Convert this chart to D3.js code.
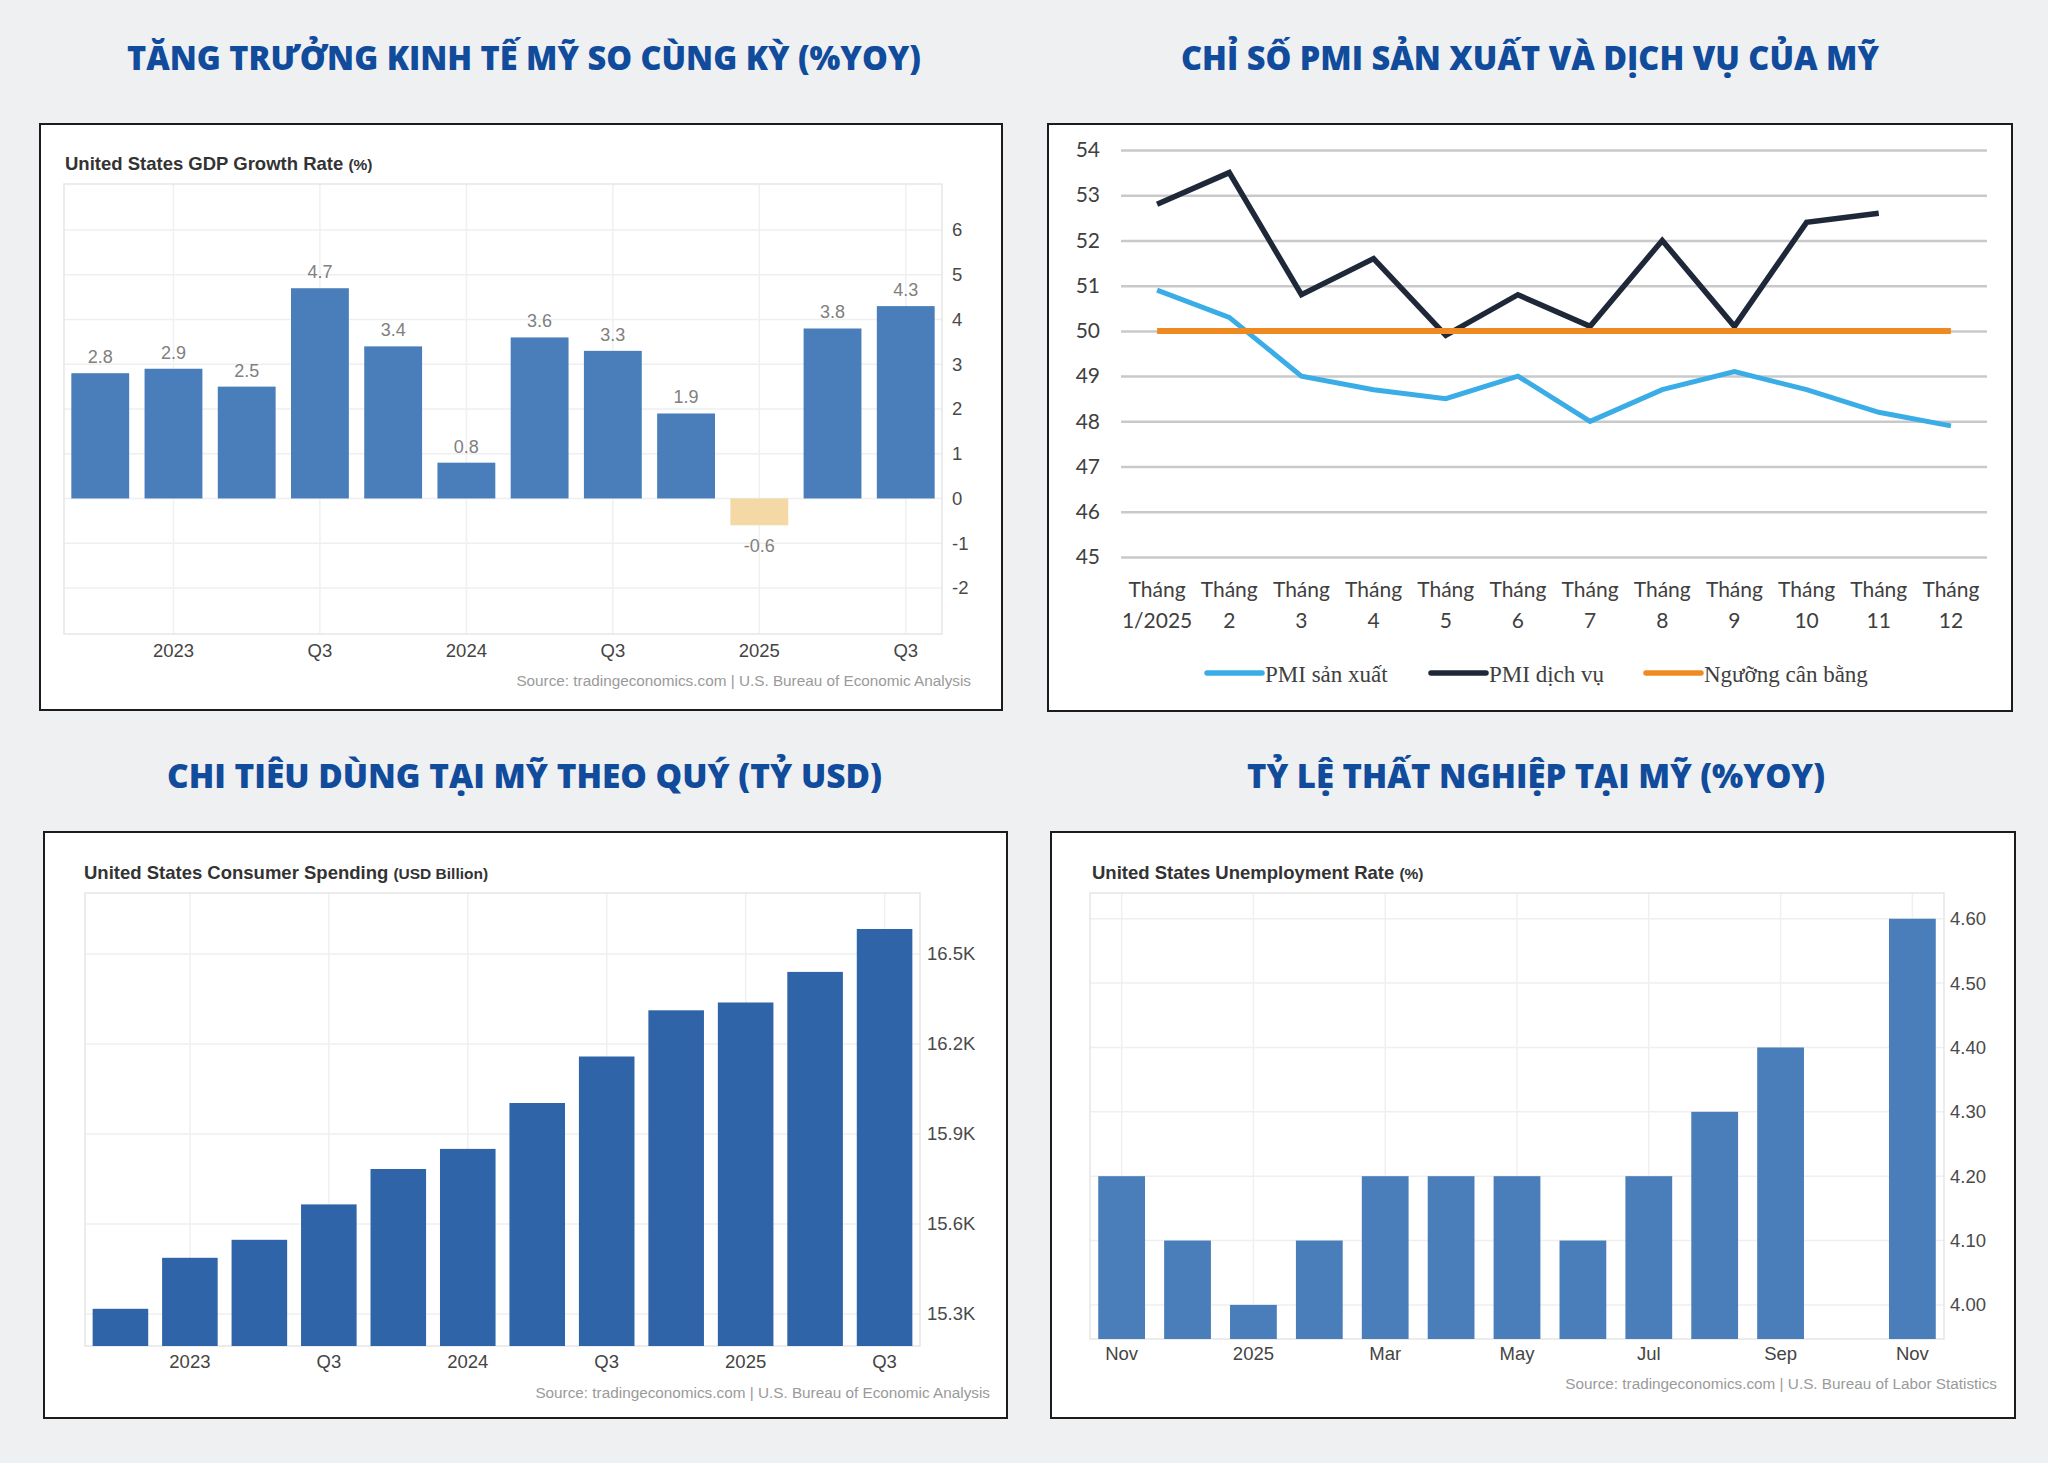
<!DOCTYPE html>
<html>
<head>
<meta charset="utf-8">
<script src="https://cdn.jsdelivr.net/npm/d3@7"></script>
<style>
  body { margin: 0; background: #eff0f2; }
  svg { display: block; }
</style>
</head>
<body>
<script>
const WIDTH = 2048;
const HEIGHT = 1463;

// --- Tăng trưởng GDP (%YoY) ---
const gdpQuarters = ["Q4 2022", "Q1 2023", "Q2 2023", "Q3 2023", "Q4 2023", "Q1 2024",
  "Q2 2024", "Q3 2024", "Q4 2024", "Q1 2025", "Q2 2025", "Q3 2025"];
const gdpValues = [2.8, 2.9, 2.5, 4.7, 3.4, 0.8, 3.6, 3.3, 1.9, -0.6, 3.8, 4.3];
const gdpTickLabels = ["", "2023", "", "Q3", "", "2024", "", "Q3", "", "2025", "", "Q3"];
const gdpYTicks = [-2, -1, 0, 1, 2, 3, 4, 5, 6];

// --- PMI sản xuất và dịch vụ ---
const pmiMonths = [["Tháng", "1/2025"], ["Tháng", "2"], ["Tháng", "3"], ["Tháng", "4"],
  ["Tháng", "5"], ["Tháng", "6"], ["Tháng", "7"], ["Tháng", "8"], ["Tháng", "9"],
  ["Tháng", "10"], ["Tháng", "11"], ["Tháng", "12"]];
const pmiManufacturing = [50.9, 50.3, 49.0, 48.7, 48.5, 49.0, 48.0, 48.7, 49.1, 48.7, 48.2, 47.9];
const pmiServices = [52.8, 53.5, 50.8, 51.6, 49.9, 50.8, 50.1, 52.0, 50.1, 52.4, 52.6, null];
const pmiThreshold = [50, 50, 50, 50, 50, 50, 50, 50, 50, 50, 50, 50];
const pmiYTicks = [45, 46, 47, 48, 49, 50, 51, 52, 53, 54];
const pmiLegend = ["PMI sản xuất", "PMI dịch vụ", "Ngưỡng cân bằng"];

// --- Chi tiêu dùng (tỷ USD) ---
const spendQuarters = gdpQuarters;
const spendValues = [15317, 15487, 15547, 15665, 15783, 15850, 16003, 16158, 16312, 16338, 16440, 16583];
const spendTickLabels = ["", "2023", "", "Q3", "", "2024", "", "Q3", "", "2025", "", "Q3"];
const spendYTicks = [15300, 15600, 15900, 16200, 16500];

// --- Tỷ lệ thất nghiệp (%) ---
const unempMonths = ["Nov 2024", "Dec 2024", "Jan 2025", "Feb 2025", "Mar 2025", "Apr 2025",
  "May 2025", "Jun 2025", "Jul 2025", "Aug 2025", "Sep 2025", "Oct 2025", "Nov 2025"];
const unempValues = [4.2, 4.1, 4.0, 4.1, 4.2, 4.2, 4.2, 4.1, 4.2, 4.3, 4.4, null, 4.6];
const unempTickLabels = ["Nov", "", "2025", "", "Mar", "", "May", "", "Jul", "", "Sep", "", "Nov"];
const unempYTicks = [4.0, 4.1, 4.2, 4.3, 4.4, 4.5, 4.6];

const svg = d3.select("body").append("svg")
  .attr("width", WIDTH)
  .attr("height", HEIGHT);

svg.append("rect").attr("width", WIDTH).attr("height", HEIGHT).attr("fill", "#eff0f2");

// Tiêu đề lớn (chữ đậm, hẹp)
const titles = [
  { text: "TĂNG TRƯỞNG KINH TẾ MỸ SO CÙNG KỲ (%YOY)", x: 127, y: 70, w: 794 },
  { text: "CHỈ SỐ PMI SẢN XUẤT VÀ DỊCH VỤ CỦA MỸ", x: 1181, y: 70, w: 698 },
  { text: "CHI TIÊU DÙNG TẠI MỸ THEO QUÝ (TỶ USD)", x: 167, y: 788, w: 715 },
  { text: "TỶ LỆ THẤT NGHIỆP TẠI MỸ (%YOY)", x: 1247, y: 788, w: 578 }
];
svg.selectAll("text.title")
  .data(titles)
  .join("text")
  .attr("class", "title")
  .attr("x", d => d.x)
  .attr("y", d => d.y)
  .attr("textLength", d => d.w)
  .attr("lengthAdjust", "spacingAndGlyphs")
  .attr("font-family", "'Open Sans', 'Noto Sans', sans-serif")
  .attr("font-weight", 800)
  .attr("font-size", 34)
  .attr("fill", "#104b9c")
  .text(d => d.text);

// Khung trắng của 4 biểu đồ
const panels = [
  { x: 40, y: 124, w: 962, h: 586 },
  { x: 1048, y: 124, w: 964, h: 587 },
  { x: 44, y: 832, w: 963, h: 586 },
  { x: 1051, y: 832, w: 964, h: 586 }
];
svg.selectAll("rect.panel")
  .data(panels)
  .join("rect")
  .attr("class", "panel")
  .attr("x", d => d.x)
  .attr("y", d => d.y)
  .attr("width", d => d.w)
  .attr("height", d => d.h)
  .attr("fill", "#fff")
  .attr("stroke", "#1c1c1c")
  .attr("stroke-width", 2);

const TE_FONT = "'Liberation Sans', Arial, sans-serif";

// Biểu đồ cột kiểu tradingeconomics
function teChart(c) {
  const g = svg.append("g");
  const x = d3.scaleBand().domain(c.categories).range([c.left, c.right])
    .paddingInner(c.padIn).paddingOuter(c.padOut);
  const y = d3.scaleLinear().domain(c.domain).range([c.bottom, c.top]);

  // lưới ngang
  g.selectAll("line.hgrid")
    .data(c.yTicks)
    .join("line")
    .attr("x1", c.left).attr("x2", c.right)
    .attr("y1", d => y(d)).attr("y2", d => y(d))
    .attr("stroke", "#efefef").attr("stroke-width", 1.5);

  // lưới dọc tại các nhãn
  const labeled = c.categories.filter((d, i) => c.tickLabels[i] !== "");
  g.selectAll("line.vgrid")
    .data(labeled)
    .join("line")
    .attr("x1", d => x(d) + x.bandwidth() / 2).attr("x2", d => x(d) + x.bandwidth() / 2)
    .attr("y1", c.top).attr("y2", c.bottom)
    .attr("stroke", "#f0f0f0").attr("stroke-width", 1.5);

  // khung vùng vẽ
  g.append("rect")
    .attr("x", c.left).attr("y", c.top)
    .attr("width", c.right - c.left).attr("height", c.bottom - c.top)
    .attr("fill", "none").attr("stroke", "#e6e6e6").attr("stroke-width", 1.5);

  const base = c.baseline !== undefined ? c.baseline : c.domain[0];
  const rows = c.categories.map((k, i) => ({ k, v: c.values[i] })).filter(d => d.v !== null);

  g.selectAll("rect.bar")
    .data(rows)
    .join("rect")
    .attr("x", d => x(d.k))
    .attr("width", x.bandwidth())
    .attr("y", d => Math.min(y(d.v), y(base)))
    .attr("height", d => Math.abs(y(d.v) - y(base)))
    .attr("fill", d => d.v < 0 ? c.negColor : c.color);

  if (c.showValues) {
    g.selectAll("text.val")
      .data(rows)
      .join("text")
      .attr("x", d => x(d.k) + x.bandwidth() / 2)
      .attr("y", d => d.v < 0 ? y(d.v) + 27 : y(d.v) - 10)
      .attr("text-anchor", "middle")
      .attr("font-family", TE_FONT)
      .attr("font-size", 18)
      .attr("fill", "#808080")
      .text(d => d.v.toFixed(1));
  }

  // trục y bên phải
  const yAxis = g.append("g")
    .attr("transform", `translate(${c.right},0)`)
    .call(d3.axisRight(y).tickValues(c.yTicks).tickSize(0).tickPadding(c.yPad).tickFormat(c.yFormat));
  yAxis.select(".domain").remove();
  yAxis.selectAll("text")
    .attr("font-family", TE_FONT)
    .attr("font-size", 18.5)
    .attr("fill", "#4a4a4a");

  // trục x
  const xAxis = g.append("g")
    .attr("transform", `translate(0,${c.bottom})`)
    .call(d3.axisBottom(x).tickSize(0).tickFormat((d, i) => c.tickLabels[i]));
  xAxis.select(".domain").remove();
  xAxis.selectAll("text")
    .attr("y", c.xLabelY - c.bottom)
    .attr("dy", null)
    .attr("font-family", TE_FONT)
    .attr("font-size", 18.5)
    .attr("fill", "#444");

  // tiêu đề nhỏ
  const st = g.append("text")
    .attr("x", c.subX).attr("y", c.subY)
    .attr("font-family", TE_FONT)
    .attr("fill", "#333");
  st.append("tspan").attr("font-weight", 700).attr("font-size", 18.5).text(c.subtitle + " ");
  st.append("tspan").attr("font-weight", 700).attr("font-size", 15.5).text(c.unit);

  g.append("text")
    .attr("x", c.sourceX).attr("y", c.sourceY)
    .attr("text-anchor", "end")
    .attr("font-family", TE_FONT)
    .attr("font-size", 15.3)
    .attr("fill", "#9a9a9a")
    .text(c.source);
}

teChart({
  categories: gdpQuarters, values: gdpValues, tickLabels: gdpTickLabels,
  yTicks: gdpYTicks, domain: [-3.03, 7.03], baseline: 0,
  left: 64, right: 942, top: 184, bottom: 634, padIn: 0.21, padOut: 0.1,
  color: "#4a7ebb", negColor: "#f4d9a6", showValues: true,
  yPad: 10, yFormat: d => String(d), xLabelY: 657,
  subtitle: "United States GDP Growth Rate", unit: "(%)", subX: 65, subY: 170,
  source: "Source: tradingeconomics.com | U.S. Bureau of Economic Analysis", sourceX: 971, sourceY: 686
});

teChart({
  categories: spendQuarters, values: spendValues, tickLabels: spendTickLabels,
  yTicks: spendYTicks, domain: [15193, 16703],
  left: 85, right: 920, top: 893, bottom: 1346, padIn: 0.2, padOut: 0.11,
  color: "#3064a8", negColor: "#3064a8", showValues: false,
  yPad: 7, yFormat: d => (d / 1000).toFixed(1) + "K", xLabelY: 1368,
  subtitle: "United States Consumer Spending", unit: "(USD Billion)", subX: 84, subY: 879,
  source: "Source: tradingeconomics.com | U.S. Bureau of Economic Analysis", sourceX: 990, sourceY: 1398
});

teChart({
  categories: unempMonths, values: unempValues, tickLabels: unempTickLabels,
  yTicks: unempYTicks, domain: [3.947, 4.64],
  left: 1090, right: 1944, top: 893, bottom: 1339, padIn: 0.29, padOut: 0.125,
  color: "#4a7ebb", negColor: "#4a7ebb", showValues: false,
  yPad: 6, yFormat: d => d.toFixed(2), xLabelY: 1360,
  subtitle: "United States Unemployment Rate", unit: "(%)", subX: 1092, subY: 879,
  source: "Source: tradingeconomics.com | U.S. Bureau of Labor Statistics", sourceX: 1997, sourceY: 1389
});

// --- Biểu đồ đường PMI ---
(function () {
  const g = svg.append("g");
  const PMI_FONT = "Lato, 'Open Sans', sans-serif";
  const left = 1121, right = 1987;
  const x = d3.scaleBand().domain(d3.range(pmiMonths.length)).range([left, right]);
  const cx = i => x(i) + x.bandwidth() / 2;
  const y = d3.scaleLinear().domain([45, 54]).range([557, 150]);

  const yAxis = g.append("g")
    .attr("transform", `translate(${left},0)`)
    .call(d3.axisLeft(y).tickValues(pmiYTicks).tickSize(-(right - left)).tickPadding(21).tickFormat(d => String(d)));
  yAxis.select(".domain").remove();
  yAxis.selectAll("line").attr("stroke", "#c9c9c9").attr("stroke-width", 2.5);
  yAxis.selectAll("text")
    .attr("font-family", PMI_FONT)
    .attr("font-size", 21)
    .attr("fill", "#404040");

  // nhãn tháng (2 dòng)
  const lbl = g.selectAll("text.month")
    .data(pmiMonths)
    .join("text")
    .attr("class", "month")
    .attr("text-anchor", "middle")
    .attr("font-family", PMI_FONT)
    .attr("font-size", 21)
    .attr("fill", "#404040");
  lbl.append("tspan").attr("x", (d, i) => cx(i)).attr("y", 597).text(d => d[0]);
  lbl.append("tspan").attr("x", (d, i) => cx(i)).attr("y", 628).text(d => d[1]);

  const series = [
    { name: pmiLegend[0], values: pmiManufacturing, color: "#3aade6", width: 5 },
    { name: pmiLegend[1], values: pmiServices, color: "#1f2839", width: 5.5 },
    { name: pmiLegend[2], values: pmiThreshold, color: "#ef8a22", width: 6 }
  ];
  const line = d3.line()
    .defined(d => d !== null)
    .x((d, i) => cx(i))
    .y(d => y(d));

  // ngưỡng vẽ sau cùng, nằm trên hai đường PMI
  series.forEach(s => {
    g.append("path")
      .datum(s.values)
      .attr("d", line)
      .attr("fill", "none")
      .attr("stroke", s.color)
      .attr("stroke-width", s.width)
      .attr("stroke-linejoin", "miter");
  });

  // chú thích
  const legendX = [1207, 1431, 1646];
  const leg = g.selectAll("g.leg")
    .data(series)
    .join("g")
    .attr("transform", (d, i) => `translate(${legendX[i]},673)`);
  leg.append("line")
    .attr("x1", 0).attr("x2", 55)
    .attr("stroke", d => d.color)
    .attr("stroke-width", 5.5)
    .attr("stroke-linecap", "round");
  leg.append("text")
    .attr("x", 58).attr("y", 9)
    .attr("font-family", "'Liberation Serif', 'Times New Roman', serif")
    .attr("font-size", 23)
    .attr("fill", "#404040")
    .text(d => d.name);
})();
</script>
</body>
</html>
